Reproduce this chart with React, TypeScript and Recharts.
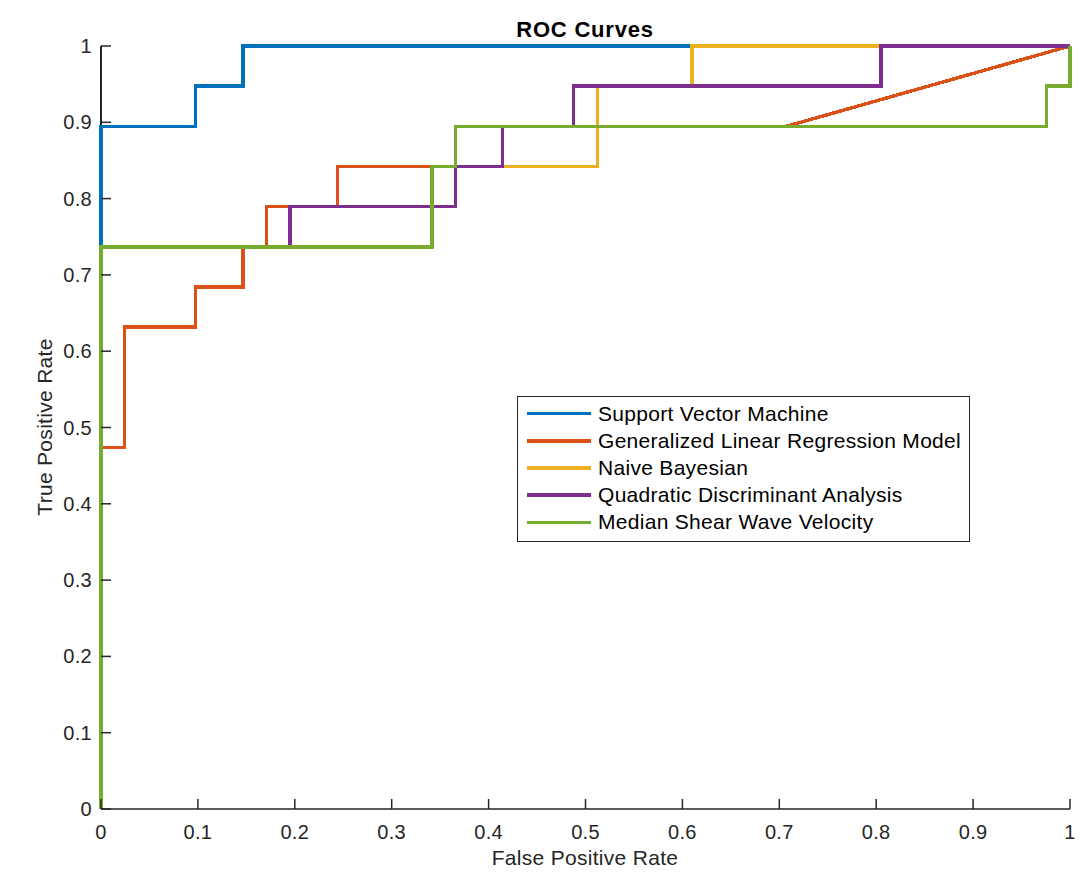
import { LineChart, Line, XAxis, YAxis, Legend } from "recharts";

// ROC points (false positive rate, true positive rate)
const svmFpr = [0, 0, 0.0976, 0.0976, 0.1463, 0.1463, 1];
const svmTpr = [0, 0.8947, 0.8947, 0.9474, 0.9474, 1, 1];

const glmFpr = [0, 0, 0.0244, 0.0244, 0.0976, 0.0976, 0.1463, 0.1463, 0.1707, 0.1707, 0.2439, 0.2439, 0.5122, 0.5122, 0.7073, 1];
const glmTpr = [0, 0.4737, 0.4737, 0.6316, 0.6316, 0.6842, 0.6842, 0.7368, 0.7368, 0.7895, 0.7895, 0.8421, 0.8421, 0.8947, 0.8947, 1];

const nbFpr = [0, 0, 0.1951, 0.1951, 0.3659, 0.3659, 0.5122, 0.5122, 0.6098, 0.6098, 1];
const nbTpr = [0, 0.7368, 0.7368, 0.7895, 0.7895, 0.8421, 0.8421, 0.9474, 0.9474, 1, 1];

const qdaFpr = [0, 0, 0.1951, 0.1951, 0.3659, 0.3659, 0.4146, 0.4146, 0.4878, 0.4878, 0.8049, 0.8049, 1];
const qdaTpr = [0, 0.7368, 0.7368, 0.7895, 0.7895, 0.8421, 0.8421, 0.8947, 0.8947, 0.9474, 0.9474, 1, 1];

const swvFpr = [0, 0, 0.3415, 0.3415, 0.3659, 0.3659, 0.9756, 0.9756, 1, 1];
const swvTpr = [0, 0.7368, 0.7368, 0.8421, 0.8421, 0.8947, 0.8947, 0.9474, 0.9474, 1];

const seriesNames = [
  "Support Vector Machine",
  "Generalized Linear Regression Model",
  "Naive Bayesian",
  "Quadratic Discriminant Analysis",
  "Median Shear Wave Velocity",
];
const seriesColors = ["#0072BD", "#D95319", "#EDB120", "#7E2F8E", "#77AC30"];

const xTicks = [0, 0.1, 0.2, 0.3, 0.4, 0.5, 0.6, 0.7, 0.8, 0.9, 1];
const yTicks = [0, 0.1, 0.2, 0.3, 0.4, 0.5, 0.6, 0.7, 0.8, 0.9, 1];

const zip = (xs: number[], ys: number[]) => xs.map((fpr, i) => ({ fpr, tpr: ys[i] }));

const series = [
  zip(svmFpr, svmTpr),
  zip(glmFpr, glmTpr),
  zip(nbFpr, nbTpr),
  zip(qdaFpr, qdaTpr),
  zip(swvFpr, swvTpr),
];

const ink = "#262626";
const font = "'Liberation Sans', Arial, Helvetica, sans-serif";

function XTick(props: any) {
  const { x, y, payload } = props;
  return (
    <g>
      <line x1={x} y1={y} x2={x} y2={y - 10} stroke={ink} strokeWidth={1.5} />
      <text x={x} y={y + 30} textAnchor="middle" fill={ink} fontSize={20} fontFamily={font} letterSpacing={0.3}>
        {payload.value}
      </text>
    </g>
  );
}

function YTick(props: any) {
  const { x, y, payload } = props;
  return (
    <g>
      <line x1={x} y1={y} x2={x + 10} y2={y} stroke={ink} strokeWidth={1.5} />
      <text x={x - 9} y={y + 7} textAnchor="end" fill={ink} fontSize={20} fontFamily={font} letterSpacing={0.3}>
        {payload.value}
      </text>
    </g>
  );
}

function LegendBox() {
  return (
    <div
      style={{
        width: 451,
        height: 141,
        border: `1px solid ${ink}`,
        background: "#fff",
        paddingTop: 3,
        boxSizing: "content-box",
        fontFamily: font,
        fontSize: 21,
        letterSpacing: 0.3,
        color: "#000",
      }}
    >
      {seriesNames.map((name, i) => (
        <div key={name} style={{ display: "flex", alignItems: "center", height: 27.2 }}>
          <div style={{ marginLeft: 9, width: 64, height: 3.5, background: seriesColors[i] }} />
          <span style={{ marginLeft: 7, whiteSpace: "nowrap" }}>{name}</span>
        </div>
      ))}
    </div>
  );
}

export default function App() {
  return (
    <div style={{ position: "relative", width: 1075, height: 866 }}>
      {/* y axis line sits underneath the curves, as in the original figure */}
      <div
        style={{
          position: "absolute",
          left: 92,
          top: 38,
          height: 763,
          width: 0,
          borderLeft: `2px solid ${ink}`,
        }}
      />
      <LineChart width={1075} height={866} margin={{ top: 38, right: 13, left: 0, bottom: 15 }}>
        <XAxis
          dataKey="fpr"
          type="number"
          domain={[0, 1]}
          ticks={xTicks}
          interval={0}
          height={50}
          tickSize={0}
          tickMargin={0}
          tickLine={false}
          axisLine={{ stroke: ink, strokeWidth: 1.5 }}
          tick={(p: any) => <XTick {...p} />}
        />
        <YAxis
          type="number"
          domain={[0, 1]}
          ticks={yTicks}
          interval={0}
          width={93}
          tickSize={0}
          tickMargin={0}
          tickLine={false}
          axisLine={false}
          tick={(p: any) => <YTick {...p} />}
        />
        {series.map((data, i) => (
          <Line
            key={seriesNames[i]}
            data={data}
            dataKey="tpr"
            name={seriesNames[i]}
            type="linear"
            stroke={seriesColors[i]}
            strokeWidth={3.5}
            shapeRendering="crispEdges"
            dot={false}
            activeDot={false}
            isAnimationActive={false}
          />
        ))}
        <Legend
          layout="vertical"
          align="center"
          verticalAlign="middle"
          content={() => <LegendBox />}
          wrapperStyle={{ position: "absolute", left: 509, top: 388, width: "auto" }}
        />
        <text x={577} y={29} textAnchor="middle" fill="#000" fontSize={22} fontWeight="bold" fontFamily={font} letterSpacing={0.8}>
          ROC Curves
        </text>
        <text x={577} y={857} textAnchor="middle" fill={ink} fontSize={21} fontFamily={font} letterSpacing={0.3}>
          False Positive Rate
        </text>
        <text
          x={44}
          y={419}
          transform="rotate(-90 44 419)"
          textAnchor="middle"
          fill={ink}
          fontSize={21}
          fontFamily={font}
          letterSpacing={0.3}
        >
          True Positive Rate
        </text>
      </LineChart>
    </div>
  );
}
